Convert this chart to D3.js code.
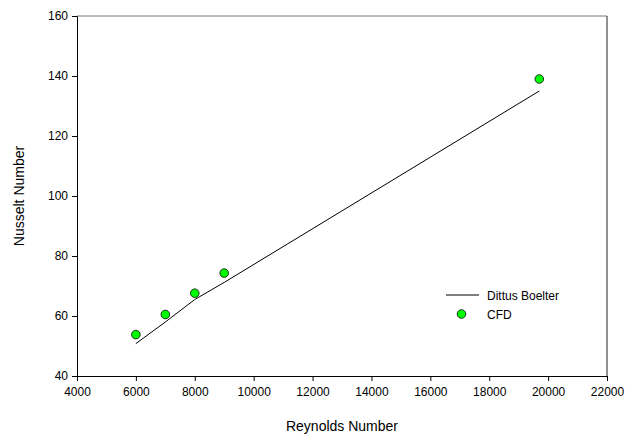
<!DOCTYPE html>
<html><head><meta charset="utf-8">
<script src="https://cdn.jsdelivr.net/npm/d3@7/dist/d3.min.js"></script>
<style>body{margin:0;background:#fff;}svg{display:block;font-family:"Liberation Sans",Arial,sans-serif;}</style>
</head><body>
<script>
const reynolds = [6000, 7000, 8000, 9000, 19700];
const dittusBoelter = [50.8, 58.0, 65.5, 71.2, 135.0];
const cfd = [53.8, 60.5, 67.6, 74.3, 139.0];
const xTicks = [4000, 6000, 8000, 10000, 12000, 14000, 16000, 18000, 20000, 22000];
const yTicks = [40, 60, 80, 100, 120, 140, 160];
const seriesNames = ["Dittus Boelter", "CFD"];

const W = 625, H = 439;
const m = {left: 77, right: 18, top: 16, bottom: 63};
const svg = d3.select("body").append("svg").attr("width", W).attr("height", H);
const x = d3.scaleLinear().domain([4000, 22000]).range([m.left, W - m.right]);
const y = d3.scaleLinear().domain([40, 160]).range([H - m.bottom, m.top]);

// frame: top grey, right dark
svg.append("line").attr("x1", x(4000)).attr("x2", x(22000)).attr("y1", y(160)).attr("y2", y(160))
  .attr("stroke", "#777").attr("stroke-width", 1);
svg.append("line").attr("x1", x(22000)).attr("x2", x(22000)).attr("y1", y(160)).attr("y2", y(40))
  .attr("stroke", "#222").attr("stroke-width", 1);

const xa = svg.append("g").attr("transform", `translate(0,${y(40)})`)
  .call(d3.axisBottom(x).tickValues(xTicks).tickFormat(d3.format("d")).tickSize(5).tickPadding(6));
const ya = svg.append("g").attr("transform", `translate(${x(4000)},0)`)
  .call(d3.axisLeft(y).tickValues(yTicks).tickFormat(d3.format("d")).tickSize(5).tickPadding(4));
[xa, ya].forEach(g => {
  g.select(".domain").attr("stroke", "#000");
  g.selectAll(".tick line").attr("stroke", "#000");
  g.selectAll(".tick text").attr("fill", "#000").style("font-size", "12px")
    .style("font-family", "'Liberation Sans',Arial,sans-serif");
});

// axis titles
svg.append("text").attr("x", (x(4000) + x(22000)) / 2).attr("y", 431).attr("text-anchor", "middle")
  .style("font-size", "14px").text("Reynolds Number");
svg.append("text").attr("transform", `translate(24,${(y(40) + y(160)) / 2}) rotate(-90)`)
  .attr("text-anchor", "middle").style("font-size", "14px").text("Nusselt Number");

// line
const pts = reynolds.map((r, i) => [r, dittusBoelter[i]]);
svg.append("path").datum(pts)
  .attr("d", d3.line().x(d => x(d[0])).y(d => y(d[1])))
  .attr("fill", "none").attr("stroke", "#000").attr("stroke-width", 1);

// points
svg.selectAll("circle.cfd").data(reynolds.map((r, i) => [r, cfd[i]])).join("circle")
  .attr("class", "cfd").attr("cx", d => x(d[0])).attr("cy", d => y(d[1])).attr("r", 4.3)
  .attr("fill", "#00ff00").attr("stroke", "#000").attr("stroke-width", 0.8);

// legend
const lg = svg.append("g");
lg.append("line").attr("x1", 446).attr("x2", 479).attr("y1", 295).attr("y2", 295)
  .attr("stroke", "#000").attr("stroke-width", 1);
lg.append("text").attr("x", 487).attr("y", 299.5).style("font-size", "12px").text(seriesNames[0]);
lg.append("circle").attr("cx", 461.5).attr("cy", 314).attr("r", 4.3)
  .attr("fill", "#00ff00").attr("stroke", "#000").attr("stroke-width", 0.8);
lg.append("text").attr("x", 487).attr("y", 318.5).style("font-size", "12px").text(seriesNames[1]);
</script>
</body></html>
